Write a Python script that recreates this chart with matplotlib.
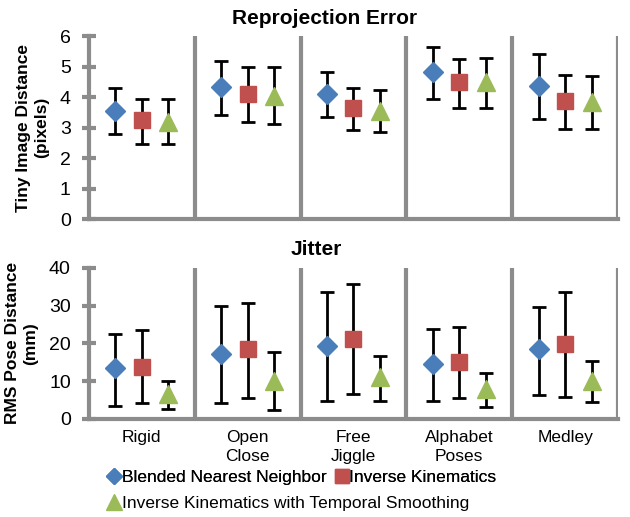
import numpy as np
import matplotlib.pyplot as plt

plt.rcParams['font.family'] = ['Liberation Sans', 'DejaVu Sans']

categories = ['Rigid', 'Open\nClose', 'Free\nJiggle', 'Alphabet\nPoses', 'Medley']
series = ['Blended Nearest Neighbor', 'Inverse Kinematics',
          'Inverse Kinematics with Temporal Smoothing']

# reprojection error (pixels): mean, upper end, lower end of error bar
reproj_mean = [[3.55, 4.33, 4.12, 4.82, 4.38],
               [3.25, 4.10, 3.63, 4.49, 3.88],
               [3.20, 4.05, 3.55, 4.50, 3.85]]
reproj_hi = [[4.30, 5.20, 4.82, 5.63, 5.43],
             [3.95, 4.99, 4.30, 5.24, 4.73],
             [3.95, 4.99, 4.25, 5.29, 4.69]]
reproj_lo = [[2.79, 3.43, 3.34, 3.94, 3.30],
             [2.48, 3.18, 2.92, 3.65, 2.96],
             [2.45, 3.12, 2.87, 3.65, 2.96]]

# jitter (mm)
jitter_mean = [[13.4, 17.1, 19.4, 14.5, 18.4],
               [13.7, 18.5, 21.2, 15.0, 19.7],
               [6.5, 10.0, 11.0, 8.0, 10.0]]
jitter_hi = [[22.5, 29.9, 33.7, 23.7, 29.6],
             [23.4, 30.7, 35.6, 24.3, 33.5],
             [10.1, 17.7, 16.6, 12.1, 15.3]]
jitter_lo = [[3.4, 4.2, 4.8, 4.8, 6.3],
             [4.05, 5.5, 6.5, 5.5, 5.9],
             [2.65, 2.4, 4.8, 3.0, 4.4]]

colors = ['#4a7ebb', '#c0504d', '#9bbb59']
markers = ['D', 's', '^']
msizes = [10, 12, 13]
offsets = [-0.25, 0, 0.25]
grey = '#8c8c8c'

fig = plt.figure(figsize=(6.3, 5.17), dpi=100)
ax1 = fig.add_axes([0.141, 0.576, 0.840, 0.354])
ax2 = fig.add_axes([0.141, 0.190, 0.840, 0.292])


def draw(ax, mean, hi, lo, ylim, yticks, title, title_x, ylabel):
    x = np.arange(len(categories))
    for i in range(3):
        m = np.array(mean[i])
        err = [m - np.array(lo[i]), np.array(hi[i]) - m]
        ax.errorbar(x + offsets[i], m, yerr=err, fmt='none', ecolor='black',
                    elinewidth=2, capsize=5, capthick=2, zorder=2)
        ax.plot(x + offsets[i], m, linestyle='none', marker=markers[i],
                color=colors[i], markersize=msizes[i], zorder=3,
                label=series[i])
    for d in np.arange(0.5, len(categories), 1):
        ax.axvline(d, color=grey, lw=3, zorder=1)
    ax.set_xlim(-0.5, len(categories) - 0.5)
    ax.set_ylim(*ylim)
    ax.set_yticks(yticks)
    for s in ['top', 'right']:
        ax.spines[s].set_visible(False)
    for s in ['left', 'bottom']:
        ax.spines[s].set_color(grey)
        ax.spines[s].set_linewidth(3)
    ax.tick_params(axis='y', direction='inout', length=10, width=3,
                   color=grey, labelsize=14, pad=8)
    ax.tick_params(axis='x', length=0, labelsize=12.5, pad=8)
    ax.set_title(title, fontsize=15, fontweight='bold', pad=9, x=title_x)
    ax.set_ylabel(ylabel, fontsize=12.5, fontweight='bold', labelpad=8)


draw(ax1, reproj_mean, reproj_hi, reproj_lo, (0, 6), range(0, 7),
     'Reprojection Error', 0.446, 'Tiny Image Distance\n(pixels)')
ax1.set_xticks([])
draw(ax2, jitter_mean, jitter_hi, jitter_lo, (0, 40), range(0, 41, 10),
     'Jitter', 0.429, 'RMS Pose Distance\n(mm)')
ax2.set_xticks(np.arange(len(categories)))
ax2.set_xticklabels(categories, linespacing=1.35)

handles, labels = ax2.get_legend_handles_labels()
leg_kw = dict(frameon=False, fontsize=12.5, handlelength=0.7,
              handletextpad=0.1, columnspacing=0.5, borderaxespad=0,
              borderpad=0, markerscale=0.85)
leg1 = fig.legend(handles[:2], labels[:2], loc='center left',
                  bbox_to_anchor=(0.172, 0.077), ncol=2, **leg_kw)
fig.add_artist(leg1)
fig.legend(handles[2:], labels[2:], loc='center left',
           bbox_to_anchor=(0.172, 0.027), **leg_kw)

fig.savefig('out.png', dpi=100)
